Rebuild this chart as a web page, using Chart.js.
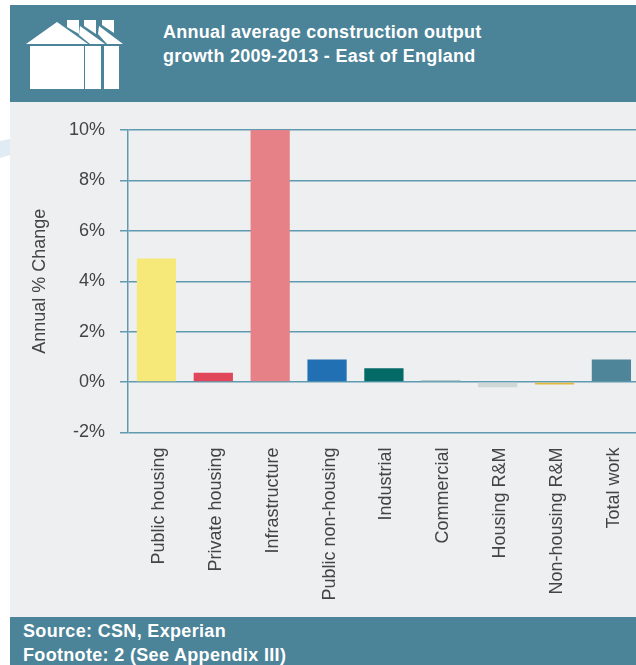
<!DOCTYPE html>
<html>
<head>
<meta charset="utf-8">
<title>East of England construction output</title>
<script src="https://cdn.jsdelivr.net/npm/chart.js@4/dist/chart.umd.min.js"></script>
<style>
  html, body { margin: 0; padding: 0; background: #fff; overflow: hidden; }
  body { width: 636px; height: 665px; position: relative; font-family: "Liberation Sans", sans-serif; }
  .swoosh { position: absolute; left: 0; top: 139px; width: 10px; height: 19px; background: #e1ebf3; clip-path: polygon(0 2px, 100% 0, 100% 16px, 0 100%); }
  .panel { position: absolute; left: 10px; top: 5px; width: 626px; height: 660px; background: #eeeff1; overflow: hidden; }
  .head { position: absolute; left: 0; top: 0; width: 626px; height: 97px; background: #4b8398; }
  .head svg { position: absolute; left: 0; top: 0; }
  .head h1 { position: absolute; left: 153px; top: 15px; margin: 0; color: #fff; font-size: 18px; letter-spacing: 0.28px; line-height: 24px; font-weight: bold; white-space: nowrap; }
  .foot { position: absolute; left: 0; top: 612px; width: 626px; height: 48px; background: #4b8398; color: #fff; font-size: 18px; letter-spacing: 0.33px; line-height: 24px; font-weight: bold; }
  .foot div { padding-left: 13px; }
  .foot div:first-child { margin-top: 2px; }
  .plot { position: absolute; left: 0; top: 97px; width: 630px; height: 515px; }
</style>
</head>
<body>
<div class="swoosh"></div>
<div class="panel">
  <div class="head">
    <!-- row of three houses -->
    <svg width="130" height="97" fill="#fff">
      <polygon points="16,39 47,17 78,39"/>
      <rect x="20" y="41" width="54" height="43"/>
      <rect x="75" y="41" width="16" height="43"/>
      <rect x="94" y="41" width="15" height="43"/>
      <polygon points="57,15 69,15 69,29 57,22"/>
      <polygon points="70,21 95,39 80,39 69,30"/>
      <polygon points="74,15 86,15 86,29 74,21"/>
      <polygon points="89,21 113,39 97,39 88,29"/>
      <polygon points="92,15 104,15 104,28 92,20"/>
    </svg>
    <h1>Annual average construction output<br>growth 2009-2013 - East of England</h1>
  </div>
  <div class="plot"><canvas id="outputGrowth" width="630" height="515"></canvas></div>
  <div class="foot">
    <div>Source: CSN, Experian</div>
    <div>Footnote: 2 (See Appendix III)</div>
  </div>
</div>
<script>
const categories = ['Public housing', 'Private housing', 'Infrastructure', 'Public non-housing', 'Industrial', 'Commercial', 'Housing R&M', 'Non-housing R&M', 'Total work'];
const annual_change = [4.9, 0.37, 10, 0.9, 0.55, 0.07, -0.2, -0.1, 0.9];
const bar_colours = ['#f7e87a', '#e0475a', '#e68287', '#2270b4', '#046a66', '#a3bdbb', '#cfd8d6', '#e2b93c', '#4f8598'];
const y_ticks = [-2, 0, 2, 4, 6, 8, 10];
const line_colour = '#5f9bb0';
const text_colour = '#444444';

new Chart(document.getElementById('outputGrowth'), {
  type: 'bar',
  data: {
    labels: categories,
    datasets: [{
      label: 'Annual % Change',
      data: annual_change,
      backgroundColor: bar_colours,
      barPercentage: 0.69,
      categoryPercentage: 1
    }]
  },
  options: {
    responsive: false,
    animation: false,
    layout: { padding: { top: 28 } },
    plugins: {
      legend: { display: false },
      tooltip: { enabled: false }
    },
    scales: {
      x: {
        grid: { display: false },
        border: { display: false },
        ticks: {
          autoSkip: false,
          minRotation: 90,
          maxRotation: 90,
          padding: 7,
          labelOffset: 2.5,
          color: text_colour,
          font: { family: 'Liberation Sans', size: 18 }
        },
        afterFit: function (scale) { scale.height = 184.5; }
      },
      y: {
        min: -2,
        max: 10,
        afterBuildTicks: function (scale) {
          scale.ticks = y_ticks.map(function (v) { return { value: v }; });
        },
        grid: { color: line_colour, lineWidth: 1.5, tickLength: 8 },
        border: { color: line_colour, width: 1.5 },
        ticks: {
          padding: 15,
          color: text_colour,
          font: { family: 'Liberation Sans', size: 18 },
          callback: function (value) { return value + '%'; }
        },
        title: {
          display: true,
          text: 'Annual % Change',
          color: text_colour,
          padding: { top: 19, bottom: 0 },
          font: { family: 'Liberation Sans', size: 18 }
        },
        afterFit: function (scale) { scale.width = 118; }
      }
    }
  }
});
</script>
</body>
</html>
